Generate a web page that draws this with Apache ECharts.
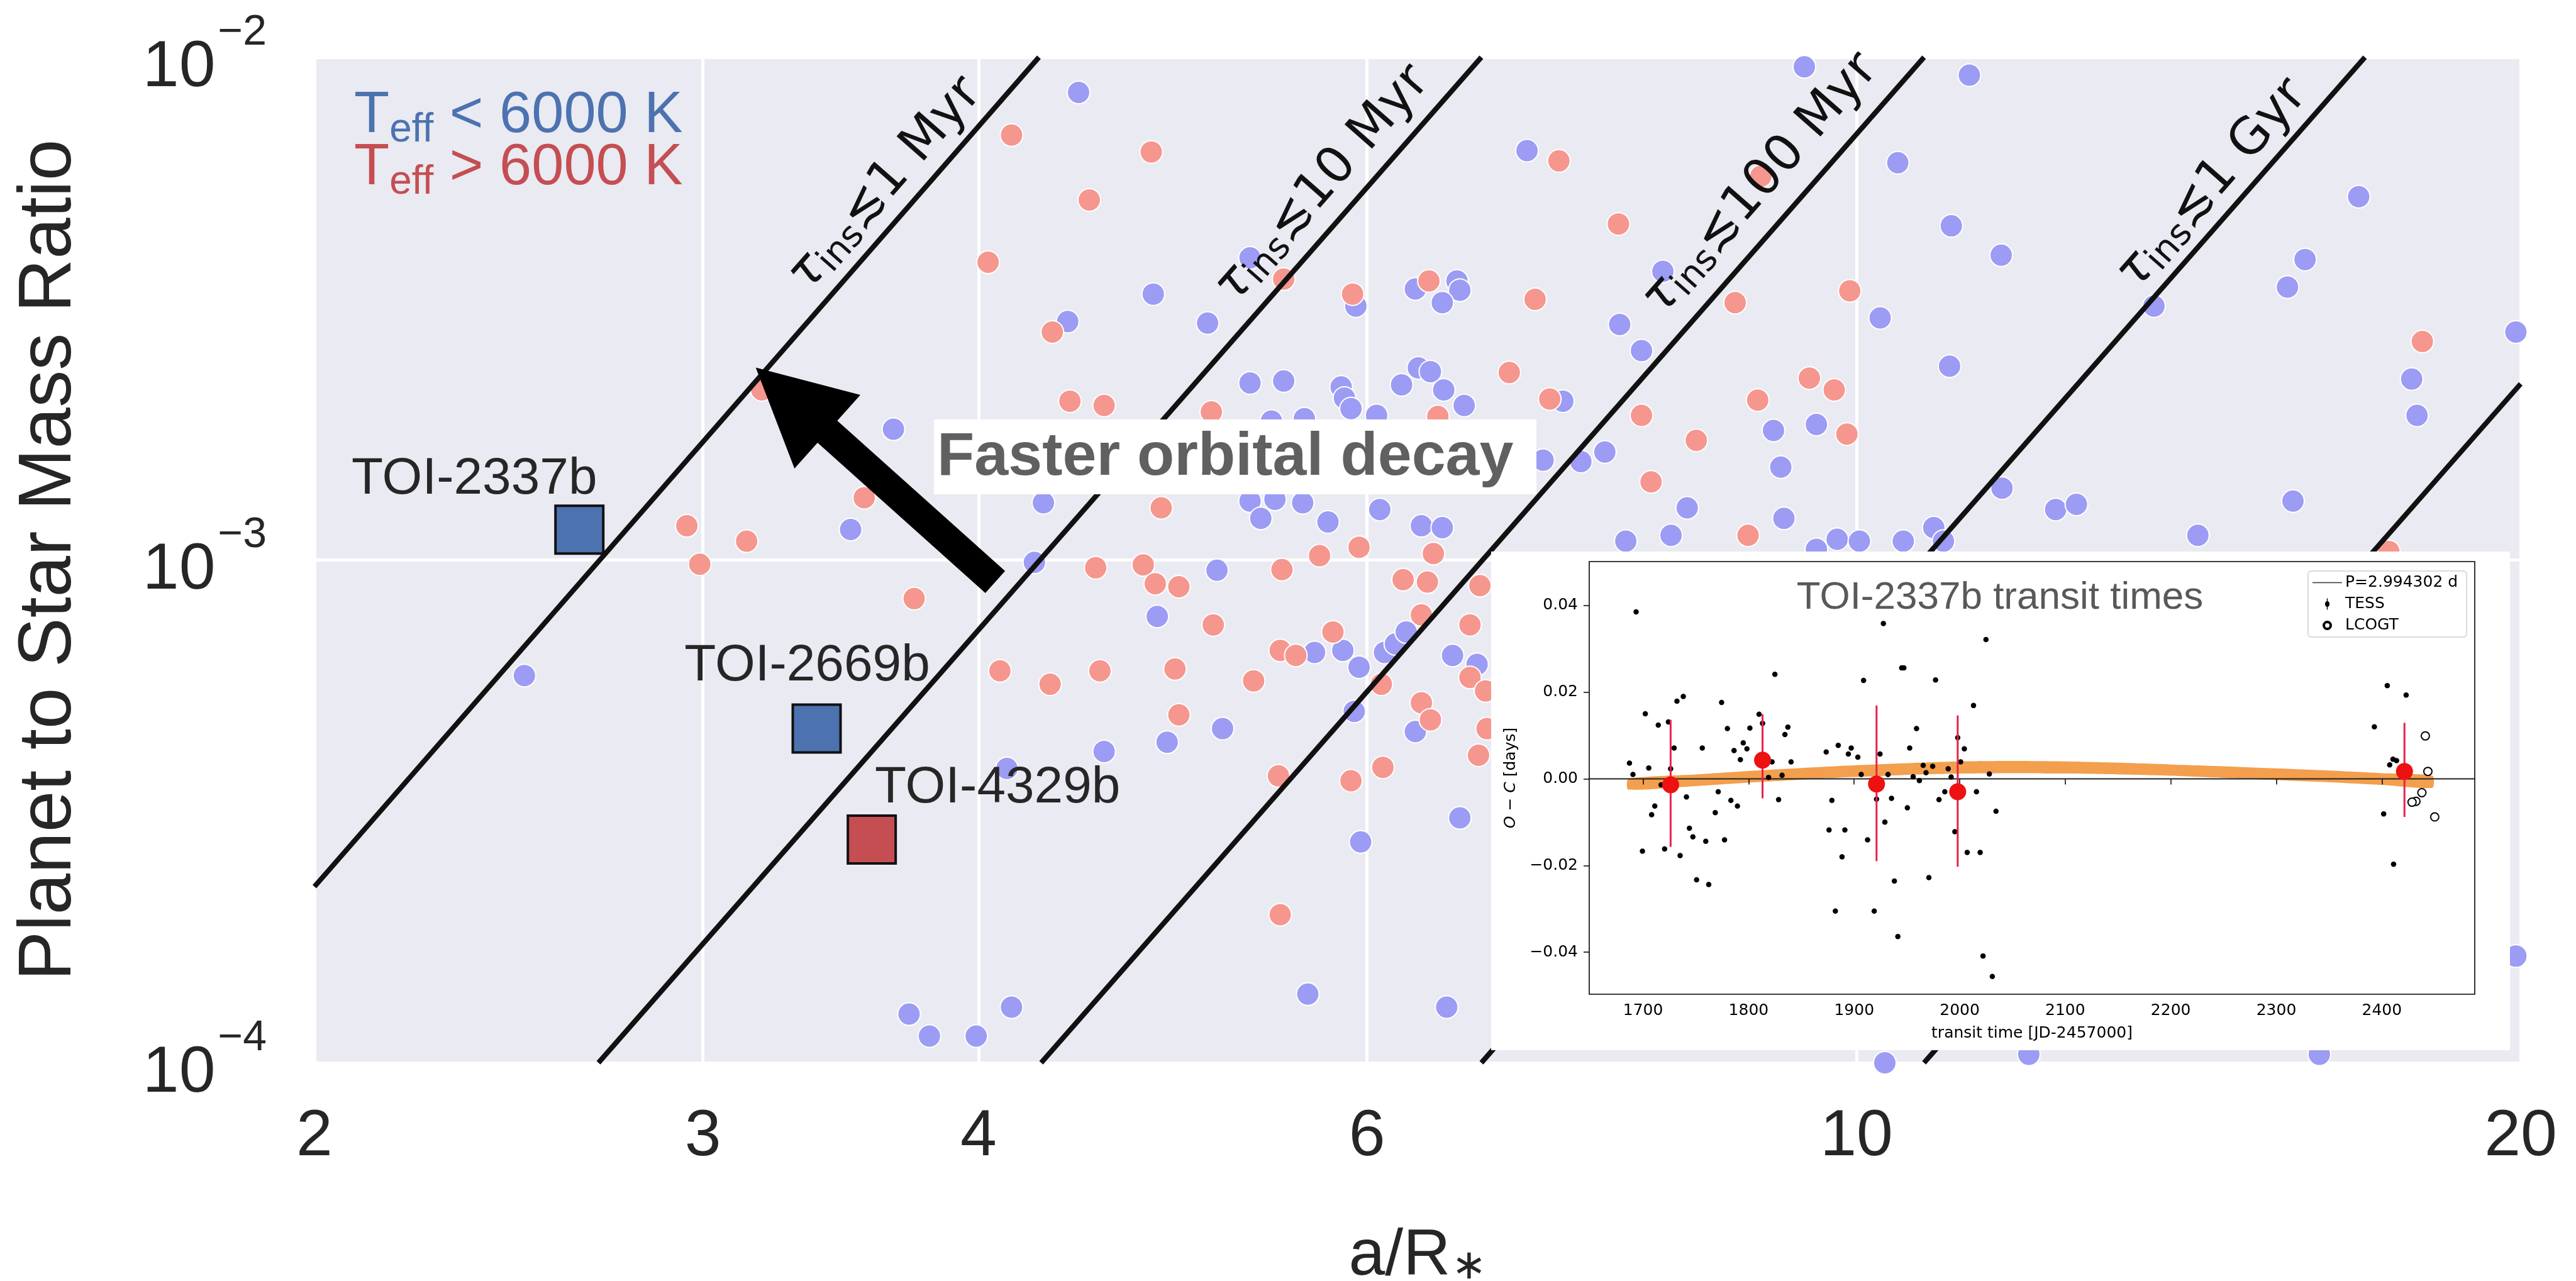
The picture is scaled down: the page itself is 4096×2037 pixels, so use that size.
<!DOCTYPE html>
<html><head><meta charset="utf-8">
<script src="https://cdn.jsdelivr.net/npm/echarts@6/dist/echarts.min.js"></script>
<style>html,body{margin:0;padding:0;background:#fff}#c{width:4096px;height:2037px}</style>
</head><body><div id="c"></div>
<script>
// ---------------- DATA ----------------
// Known planets, Teff < 6000 K : [a/R*, planet-to-star mass ratio]
const coolHosts = [
[4.44,8.51e-3],[4.80,3.38e-3],[4.39,2.98e-3],[3.66,1.82e-3],[4.28,1.30e-3],[3.50,1.15e-3],[4.24,9.89e-4],
[4.82,7.72e-4],[4.56,4.16e-4],[4.87,4.34e-4],[4.12,3.85e-4],[3.72,1.25e-4],[3.80,1.13e-4],[3.99,1.13e-4],
[4.14,1.29e-4],[2.49,5.89e-4],[7.09,6.52e-3],[5.31,3.99e-3],[5.08,2.96e-3],[5.93,3.20e-3],[6.31,3.46e-3],
[6.59,3.59e-3],[6.61,3.44e-3],[6.49,3.25e-3],[8.17,3.75e-3],[7.81,2.94e-3],[7.99,2.61e-3],[7.36,2.07e-3],
[8.38,1.27e-3],[8.24,1.12e-3],[7.86,1.09e-3],[7.69,1.64e-3],[7.50,1.57e-3],[7.21,1.58e-3],[5.31,2.25e-3],
[5.50,2.27e-3],[5.84,2.21e-3],[5.86,2.10e-3],[5.90,2.00e-3],[6.33,2.41e-3],[6.41,2.37e-3],[6.22,2.23e-3],
[6.50,2.18e-3],[6.64,2.03e-3],[6.06,1.94e-3],[5.31,1.31e-3],[5.45,1.32e-3],[5.61,1.30e-3],[5.37,1.21e-3],
[5.76,1.19e-3],[6.08,1.26e-3],[6.35,1.17e-3],[6.49,1.16e-3],[5.13,9.54e-4],[5.68,6.55e-4],[5.85,6.61e-4],
[5.95,6.12e-4],[6.11,6.55e-4],[6.18,6.81e-4],[6.25,7.19e-4],[5.92,5.00e-4],[5.16,4.62e-4],[5.96,2.75e-4],
[5.64,1.37e-4],[6.52,1.29e-4],[6.61,3.07e-4],[6.31,4.56e-4],[6.56,6.46e-4],[6.73,6.20e-4],[5.43,1.89e-3],
[5.62,1.91e-3],[9.47,9.57e-3],[11.25,9.21e-3],[10.44,6.17e-3],[11.04,4.62e-3],[11.63,4.04e-3],[16.89,5.28e-3],
[15.97,3.96e-3],[15.68,3.49e-3],[13.64,3.20e-3],[19.9,2.84e-3],[17.85,2.29e-3],[17.95,1.94e-3],[10.25,3.03e-3],
[11.02,2.43e-3],[9.17,1.81e-3],[9.59,1.86e-3],[9.24,1.53e-3],[11.64,1.39e-3],[9.27,1.21e-3],[9.80,1.10e-3],
[10.03,1.09e-3],[10.50,1.09e-3],[10.84,1.16e-3],[10.95,1.09e-3],[12.31,1.26e-3],[12.58,1.29e-3],[15.77,1.31e-3],
[14.28,1.12e-3],[9.59,1.05e-3],[19.9,1.63e-4],[10.30,1.00e-4],[11.97,1.04e-4],[16.21,1.04e-4]
];
// Known planets, Teff > 6000 K
const hotHosts = [
[4.14,7.00e-3],[4.79,6.48e-3],[4.49,5.20e-3],[4.04,3.91e-3],[4.32,2.84e-3],[3.19,2.18e-3],[4.40,2.07e-3],
[4.56,2.03e-3],[3.55,1.33e-3],[4.84,1.27e-3],[2.95,1.17e-3],[3.14,1.09e-3],[2.99,9.81e-4],[4.52,9.65e-4],
[4.75,9.78e-4],[4.81,8.97e-4],[4.93,8.85e-4],[3.74,8.38e-4],[4.09,6.02e-4],[4.31,5.66e-4],[4.54,6.02e-4],
[4.91,6.07e-4],[4.93,4.92e-4],[7.33,6.22e-3],[7.80,4.66e-3],[5.50,3.62e-3],[5.91,3.38e-3],[6.40,3.59e-3],
[7.15,3.30e-3],[6.96,2.36e-3],[7.26,2.09e-3],[7.99,1.94e-3],[8.46,1.73e-3],[8.07,1.43e-3],[5.10,1.97e-3],
[6.46,1.93e-3],[5.71,1.02e-3],[5.95,1.06e-3],[5.49,9.57e-4],[6.23,9.14e-4],[6.39,9.04e-4],[6.43,1.03e-3],
[6.75,8.89e-4],[5.11,7.43e-4],[5.33,5.75e-4],[5.48,6.61e-4],[5.57,6.46e-4],[5.79,7.19e-4],[6.09,5.66e-4],
[5.47,3.72e-4],[5.90,3.64e-4],[6.10,3.87e-4],[5.48,1.97e-4],[6.35,5.20e-4],[6.41,4.81e-4],[6.68,7.43e-4],
[6.68,5.84e-4],[6.79,5.49e-4],[6.80,4.62e-4],[6.74,4.09e-4],[6.35,7.78e-4],[9.05,5.80e-3],[18.05,2.72e-3],
[8.81,3.25e-3],[9.93,3.43e-3],[9.52,2.30e-3],[9.77,2.18e-3],[9.02,2.08e-3],[9.90,1.78e-3],[8.93,1.12e-3],
[17.43,1.04e-3]
];
// Highlighted TOIs
const toiNames = ['TOI-2337b','TOI-2669b','TOI-4329b'];
const toiAoverR = [2.637, 3.378, 3.578];
const toiMassRatio = [1.149e-3, 4.62e-4, 2.78e-4];
const toiCoolHost = [true, true, false];
// Constant inspiral-time lines (q ∝ (a/R*)^5), endpoints on the plot frame
const tauLines = [
  [[2, 2.24e-4], [4.26, 1e-2]],
  [[2.69, 1e-4], [6.76, 1e-2]],
  [[4.27, 1e-4], [10.73, 1e-2]],
  [[6.76, 1e-4], [17.0, 1e-2]],
  [[10.73, 1e-4], [20, 2.24e-3]]
];
const tauLabelText = ['1 Myr', '10 Myr', '100 Myr', '1 Gyr'];
const tauLabelAt = [[3.63, 5.58e-3], [5.73, 5.58e-3], [9.05, 5.58e-3], [14.5, 5.58e-3]];
const arrowTail = [4.07, 9.04e-4];
const arrowTip = [3.17, 2.414e-3];
const xTicks = [2, 3, 4, 6, 10, 20];

// Inset: TOI-2337b transit times (O-C, days)
const tessTimes = [1693.4,1687.1,1690.4,1705.4,1702.1,1714.4,1724.0,1729.4,1726.1,1717.1,1711.1,1708.1,1699.4,1720.4,
1732.1,1738.1,1741.1,1735.1,1743.9,1747.2,1750.7,1759.4,1762.2,1756.1,1768.4,1771.2,1774.4,1777.2,1779.9,1783.2,
1789.4,1786.2,1792.2,1794.9,1798.4,1801.2,1809.9,1813.2,1822.2,1818.9,1824.9,1831.7,1828.4,1834.4,1837.2,1840.2,
1873.5,1878.9,1876.2,1882.2,1884.9,1888.5,1891.2,1894.5,1897.2,1903.5,1906.7,1908.9,1912.7,1919.0,1921.2,1924.5,
1927.7,1929.1,1932.1,1935.4,1938.1,1941.4,1945.0,1947.1,1950.4,1952.6,1955.9,1959.1,1961.8,1965.4,1968.1,1970.8,
1974.4,1977.1,1980.4,1985.9,1989.1,1991.9,1995.4,1998.1,2000.9,2004.4,2007.1,2013.1,2015.9,2019.4,2022.1,2024.9,
2028.1,2030.9,2034.4,2405.1,2423.0,2392.9,2413.9,2410.5,2407.4,2401.7,2411.1];
const tessOC = [0.0385,0.0036,0.0010,0.0025,0.0150,0.0124,0.0131,0.0071,0.0023,-0.0014,-0.0063,-0.0083,-0.0167,-0.0162,
0.0179,0.0190,-0.0042,-0.0177,-0.0114,-0.0134,-0.0233,-0.0144,-0.0244,0.0071,-0.0078,-0.0030,0.0176,-0.0141,0.0116,-0.0050,
-0.0063,0.0065,0.0044,0.0083,0.0069,0.0117,0.0149,0.0128,0.0039,0.0003,0.0241,0.0008,-0.0048,0.0102,0.0119,0.0039,
0.0062,-0.0050,-0.0118,-0.0305,0.0077,-0.0180,-0.0118,0.0057,0.0071,0.0050,0.0010,0.0227,-0.0141,-0.0305,-0.0047,0.0057,
0.0358,-0.0100,0.0010,-0.0045,-0.0236,-0.0364,0.0256,0.0256,-0.0067,0.0071,0.0005,0.0116,-0.0004,0.0031,0.0014,-0.0228,
0.0029,0.0228,-0.0048,-0.0030,0.0023,0.0004,-0.0122,0.0095,0.0039,0.0069,-0.0170,0.0169,-0.0030,-0.0170,-0.0409,0.0321,
0.0011,-0.0456,-0.0075,0.0215,0.0193,0.0120,0.0042,0.0045,0.0032,-0.0081,-0.0197];
const lcoTimes = [2441.2, 2443.6, 2437.9, 2432.3, 2428.6, 2450.1];
const lcoOC = [0.0099, 0.0017, -0.0032, -0.0052, -0.0054, -0.0088];
const binTimes = [1726.1, 1813.2, 1921.2, 1998.1, 2421.4];
const binOC = [-0.0014, 0.0043, -0.0012, -0.0030, 0.0017];
const binLow = [-0.0157, -0.0045, -0.0190, -0.0203, -0.0088];
const binHigh = [0.0136, 0.0149, 0.0169, 0.0146, 0.0129];
const bandTimes = [1686,1750,1800,1850,1900,1950,2000,2050,2100,2150,2200,2250,2300,2350,2400,2448];
const bandLower = [-0.0025,-0.0017,-0.0009,-0.0002,0.0004,0.0009,0.0012,0.0013,0.0012,0.0010,0.0007,0.0002,-0.0003,-0.0008,-0.0014,-0.0021];
const bandUpper = [0.0000,0.0010,0.0018,0.0025,0.0031,0.0036,0.0040,0.0041,0.0040,0.0037,0.0033,0.0029,0.0024,0.0019,0.0013,0.0007];
const insetXTicks = [1700, 1800, 1900, 2000, 2100, 2200, 2300, 2400];
const insetYTicks = [-0.04, -0.02, 0, 0.02, 0.04];

// ---------------- STYLE ----------------
const SANS = "'Liberation Sans', Arial, Helvetica, sans-serif";
const MPL = "'DejaVu Sans', sans-serif";
const INK = '#262626';
const BLUE_PT = '#9C9CF5', RED_PT = '#F5978E';
const BLUE_SQ = '#4C72B0', RED_SQ = '#C44E52';
const toiLabelOffset = [[-167, -80], [-15, -99], [200, -82]];

const chart = echarts.init(document.getElementById('c'), null, {renderer: 'canvas', width: 4096, height: 2037});

const series = [];
series.push({
  name: 'Teff < 6000 K', type: 'scatter', xAxisIndex: 0, yAxisIndex: 0, z: 2,
  data: coolHosts, symbolSize: 36,
  itemStyle: {color: BLUE_PT, borderColor: '#fff', borderWidth: 2, opacity: 1}
});
series.push({
  name: 'Teff > 6000 K', type: 'scatter', xAxisIndex: 0, yAxisIndex: 0, z: 2,
  data: hotHosts, symbolSize: 36,
  itemStyle: {color: RED_PT, borderColor: '#fff', borderWidth: 2, opacity: 1}
});
tauLines.forEach((seg, i) => {
  series.push({
    name: 'tau' + i, type: 'line', xAxisIndex: 0, yAxisIndex: 0, z: 3,
    data: seg, symbol: 'none', lineStyle: {color: '#111', width: 8}, silent: true
  });
});
series.push({
  name: 'tauLabels', type: 'scatter', xAxisIndex: 0, yAxisIndex: 0, z: 5, silent: true,
  data: tauLabelAt.map((p, i) => ({value: p, name: tauLabelText[i]})),
  symbolSize: 1, itemStyle: {color: 'rgba(0,0,0,0)', opacity: 1},
  label: {
    show: true, position: 'inside', rotate: 48.7, opacity: 1,
    formatter: p => '{t|τ}{s|ins}{n|≲' + p.name + '}',
    rich: {
      t: {fontFamily: MPL, fontStyle: 'italic', fontSize: 80, color: '#111'},
      s: {fontFamily: MPL, fontSize: 56, color: '#111', padding: [30, 0, 0, 0]},
      n: {fontFamily: MPL, fontSize: 80, color: '#111'}
    }
  }
});
series.push({
  name: 'TOIs', type: 'scatter', xAxisIndex: 0, yAxisIndex: 0, z: 6,
  symbol: 'rect', symbolSize: 76,
  data: toiNames.map((n, i) => ({
    name: n, value: [toiAoverR[i], toiMassRatio[i]],
    itemStyle: {color: toiCoolHost[i] ? BLUE_SQ : RED_SQ, borderColor: '#111', borderWidth: 4, opacity: 1},
    label: {offset: toiLabelOffset[i]}
  })),
  itemStyle: {opacity: 1},
  label: {show: true, position: 'inside', formatter: p => p.name, fontFamily: SANS, fontSize: 82, color: INK}
});

// inset series
series.push({
  name: 'band', type: 'custom', xAxisIndex: 1, yAxisIndex: 1, z: 11, silent: true, clip: true,
  data: bandTimes.map((t, i) => [t, bandLower[i], bandUpper[i]]),
  encode: {x: 0, y: [1, 2]},
  renderItem: (params, api) => {
    if (params.dataIndex !== 0) return null;
    const upper = bandTimes.map((t, i) => api.coord([t, bandUpper[i]]));
    const lower = bandTimes.map((t, i) => api.coord([t, bandLower[i]])).reverse();
    return {type: 'polygon', z2: 0, shape: {points: upper.concat(lower), smooth: 0.2},
            style: {fill: '#F2953A', opacity: 0.9}};
  }
});
series.push({
  name: 'P=2.994302 d', type: 'line', xAxisIndex: 1, yAxisIndex: 1, z: 14, silent: true,
  data: [[1649, 0], [2488, 0]], symbol: 'none', itemStyle: {color: '#333'}, lineStyle: {color: '#222', width: 2}
});
series.push({
  name: 'TESS', type: 'scatter', xAxisIndex: 1, yAxisIndex: 1, z: 15,
  data: tessTimes.map((t, i) => [t, tessOC[i]]), symbolSize: 8.5,
  itemStyle: {color: '#000', borderWidth: 0, opacity: 1}
});
series.push({
  name: 'LCOGT', type: 'scatter', xAxisIndex: 1, yAxisIndex: 1, z: 15,
  data: lcoTimes.map((t, i) => [t, lcoOC[i]]), symbol: 'emptyCircle', symbolSize: 13,
  itemStyle: {color: '#000', borderColor: '#000', borderWidth: 1.8, opacity: 1}
});
series.push({
  name: 'binErr', type: 'custom', xAxisIndex: 1, yAxisIndex: 1, z: 16, silent: true,
  data: binTimes.map((t, i) => [t, binLow[i], binHigh[i]]),
  encode: {x: 0, y: [1, 2]},
  renderItem: (params, api) => {
    const a = api.coord([api.value(0), api.value(1)]);
    const b = api.coord([api.value(0), api.value(2)]);
    return {type: 'line', shape: {x1: a[0], y1: a[1], x2: b[0], y2: b[1]},
            style: {stroke: '#E8204A', lineWidth: 3}};
  }
});
series.push({
  name: 'binned', type: 'scatter', xAxisIndex: 1, yAxisIndex: 1, z: 17, silent: true,
  data: binTimes.map((t, i) => [t, binOC[i]]), symbolSize: 27,
  itemStyle: {color: '#EE1111', opacity: 1}
});

const option = {
  animation: false,
  backgroundColor: '#ffffff',
  grid: [
    {left: 500, top: 91, width: 3508, height: 1599, show: true, backgroundColor: '#EAEAF2',
     borderWidth: 0, containLabel: false, outerBoundsMode: 'none'},
    {left: 2527, top: 893, width: 1408, height: 688, show: true, backgroundColor: '#ffffff',
     borderColor: '#000', borderWidth: 1.6, containLabel: false, outerBoundsMode: 'none', z: 10}
  ],
  xAxis: [
    {type: 'log', logBase: 10, gridIndex: 0, min: 2, max: 20,
     axisLine: {show: false}, axisTick: {show: false, customValues: xTicks},
     axisLabel: {customValues: xTicks, fontSize: 104, fontFamily: SANS, color: INK, margin: 66,
                 formatter: v => String(Math.round(v))},
     splitLine: {show: true, lineStyle: {color: '#ffffff', width: 5}},
     name: '{a|a/R}{s|∗}', nameLocation: 'middle', nameGap: 256,
     nameTextStyle: {rich: {a: {fontSize: 104, fontFamily: SANS, color: INK},
                            s: {fontSize: 66, fontFamily: MPL, color: INK, padding: [36, 0, 0, 2]}}}},
    {type: 'value', gridIndex: 1, min: 1649, max: 2488, z: 11,
     axisLine: {show: false},
     axisTick: {show: true, customValues: insetXTicks, inside: false, length: 9, lineStyle: {color: '#000', width: 1.5}},
     axisLabel: {customValues: insetXTicks, fontSize: 25, fontFamily: MPL, color: '#000', margin: 14,
                 formatter: v => String(Math.round(v))},
     splitLine: {show: false},
     name: 'transit time [JD-2457000]', nameLocation: 'middle', nameGap: 50,
     nameTextStyle: {fontSize: 25, fontFamily: MPL, color: '#000'}}
  ],
  yAxis: [
    {type: 'log', logBase: 10, gridIndex: 0, min: 1e-4, max: 1e-2,
     axisLine: {show: false}, axisTick: {show: false},
     axisLabel: {margin: 76, formatter: v => '{b|10}{e|−' + Math.abs(Math.round(Math.log10(v))) + '}',
                 rich: {b: {fontSize: 104, fontFamily: SANS, color: INK, padding: [34, 0, 0, 0]},
                        e: {fontSize: 68, fontFamily: SANS, color: INK, padding: [0, 0, 78, 4]}}},
     splitLine: {show: true, lineStyle: {color: '#ffffff', width: 5}},
     name: 'Planet to Star Mass Ratio', nameLocation: 'middle', nameGap: 362, nameRotate: 90,
     nameTextStyle: {fontSize: 118, fontFamily: SANS, color: INK}},
    {type: 'value', gridIndex: 1, min: -0.0497, max: 0.0501, z: 11,
     axisLine: {show: false},
     axisTick: {show: true, customValues: insetYTicks, inside: false, length: 9, lineStyle: {color: '#000', width: 1.5}},
     axisLabel: {customValues: insetYTicks, fontSize: 25, fontFamily: MPL, color: '#000', margin: 18,
                 formatter: v => (Math.abs(v) < 1e-9 ? '0.00' : (v < 0 ? '−' : '') + Math.abs(v).toFixed(2))},
     splitLine: {show: false},
     name: '{i|O}{n| − }{i|C}{n| [days]}', nameLocation: 'middle', nameGap: 112, nameRotate: 90,
     nameTextStyle: {rich: {i: {fontSize: 25, fontFamily: MPL, fontStyle: 'italic', color: '#000'},
                            n: {fontSize: 25, fontFamily: MPL, color: '#000'}}}}
  ],
  legend: {
    show: true, orient: 'vertical', left: 3670, top: 908, z: 18, selectedMode: false,
    itemWidth: 47, itemHeight: 18, itemGap: 9, padding: [6, 14, 6, 6],
    backgroundColor: 'rgba(255,255,255,0.85)', borderColor: '#d0d0d0', borderWidth: 1.5, borderRadius: 5,
    textStyle: {fontSize: 25, fontFamily: MPL, color: '#000'},
    data: [
      {name: 'P=2.994302 d', icon: 'path://M0,8.3L47,8.3L47,9.7L0,9.7Z', itemStyle: {color: '#333'}},
      {name: 'TESS', icon: 'path://M0,9L0.01,9ZM47,9L46.99,9ZM22.8,0L24.2,0L24.2,18L22.8,18ZM20,9A3.5,4.5 0 1 1 27,9A3.5,4.5 0 1 1 20,9Z'},
      {name: 'LCOGT', icon: 'path://M0,9L0.01,9ZM47,9L46.99,9ZM17,9A6.5,6.5 0 1 1 30,9A6.5,6.5 0 1 1 17,9ZM19,9A4.5,4.5 0 1 0 28,9A4.5,4.5 0 1 0 19,9Z'}
    ]
  },
  series: series
};
chart.setOption(option);

// ---- annotations (arrow anchored in data space) ----
const pTip = chart.convertToPixel({gridIndex: 0}, arrowTip);
const pTail = chart.convertToPixel({gridIndex: 0}, arrowTail);
const dx = pTip[0] - pTail[0], dy = pTip[1] - pTail[1];
const len = Math.hypot(dx, dy);
const ux = dx / len, uy = dy / len, nx = -uy, ny = ux;
const shaftW = 47, headW = 157, headL = 153;
const bx = pTip[0] - ux * headL, by = pTip[1] - uy * headL;
const arrowPts = [
  [pTail[0] + nx * shaftW / 2, pTail[1] + ny * shaftW / 2],
  [bx + nx * shaftW / 2, by + ny * shaftW / 2],
  [bx + nx * headW / 2, by + ny * headW / 2],
  [pTip[0], pTip[1]],
  [bx - nx * headW / 2, by - ny * headW / 2],
  [bx - nx * shaftW / 2, by - ny * shaftW / 2],
  [pTail[0] - nx * shaftW / 2, pTail[1] - ny * shaftW / 2]
];

const teffRich = color => ({
  T: {fontSize: 92, fontFamily: SANS, fill: color, color: color, lineHeight: 108},
  e: {fontSize: 64, fontFamily: SANS, fill: color, color: color, verticalAlign: 'bottom', lineHeight: 64},
  r: {fontSize: 92, fontFamily: SANS, fill: color, color: color, lineHeight: 108}
});

chart.setOption({
  graphic: [
    {type: 'rect', z: 9, silent: true, shape: {x: 2371, y: 877, width: 1620, height: 793}, style: {fill: '#ffffff'}},
    {type: 'polygon', z: 6, silent: true, shape: {points: arrowPts}, style: {fill: '#000'}},
    {type: 'rect', z: 7, silent: true, shape: {x: 1485, y: 667, width: 958, height: 119}, style: {fill: '#ffffff'}},
    {type: 'text', z: 8, silent: true, x: 1490, y: 728,
     style: {text: 'Faster orbital decay', fontSize: 97, fontWeight: 'bold', fontFamily: SANS, fill: '#606060',
             align: 'left', verticalAlign: 'middle', textAlign: 'left', textVerticalAlign: 'middle'}},
    {type: 'text', z: 8, silent: true, x: 563, y: 185,
     style: {text: '{T|T}{e|eff}{r| < 6000 K}', rich: teffRich(BLUE_SQ), fill: BLUE_SQ,
             align: 'left', verticalAlign: 'middle', textAlign: 'left', textVerticalAlign: 'middle'}},
    {type: 'text', z: 8, silent: true, x: 563, y: 268,
     style: {text: '{T|T}{e|eff}{r| > 6000 K}', rich: teffRich(RED_SQ), fill: RED_SQ,
             align: 'left', verticalAlign: 'middle', textAlign: 'left', textVerticalAlign: 'middle'}},
    {type: 'text', z: 18, silent: true, x: 3180, y: 951,
     style: {text: 'TOI-2337b transit times', fontSize: 62, fontFamily: SANS, fill: '#595959',
             align: 'center', verticalAlign: 'middle', textAlign: 'center', textVerticalAlign: 'middle'}}
  ]
});
</script>
</body></html>
